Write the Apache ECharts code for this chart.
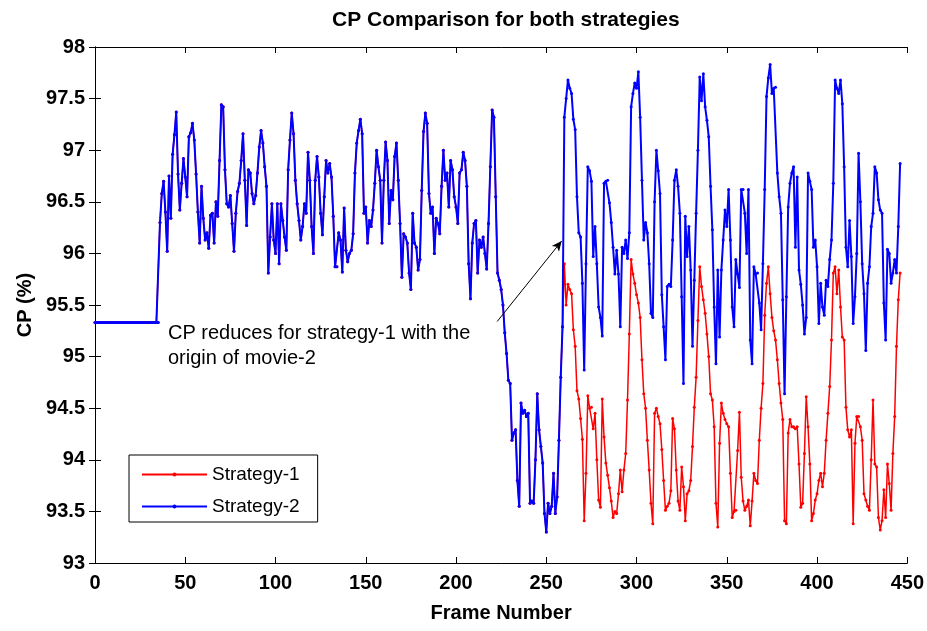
<!DOCTYPE html>
<html>
<head>
<meta charset="utf-8">
<script src="https://cdn.jsdelivr.net/npm/echarts@6/dist/echarts.min.js"></script>
<style>
  html, body { margin: 0; padding: 0; background: #fff; }
  #chart { width: 927px; height: 631px; }
</style>
</head>
<body>
<div id="chart"></div>
<script>
// frames 0..259: both strategies give the same CP (red hidden under blue)
const sharedCP = [
  95.33, 95.33, 95.33, 95.33, 95.33, 95.33, 95.33, 95.33, 95.33, 95.33,
  95.33, 95.33, 95.33, 95.33, 95.33, 95.33, 95.33, 95.33, 95.33, 95.33,
  95.33, 95.33, 95.33, 95.33, 95.33, 95.33, 95.33, 95.33, 95.33, 95.33,
  95.33, 95.33, 95.33, 95.33, 95.33, 95.33, 96.3, 96.58, 96.7, 96.4,
  96.02, 96.75, 96.34, 96.96, 97.15, 97.37, 96.77, 96.42, 96.68, 96.92,
  96.74, 96.55, 97.13, 97.17, 97.26, 97.1, 96.77, 96.4, 96.1, 96.65,
  96.34, 96.13, 96.2, 96.05, 96.37, 96.39, 96.1, 96.5, 96.36, 96.9,
  97.44, 97.42, 96.81, 96.48, 96.45, 96.56, 96.29, 96.02, 96.39, 96.6,
  96.68, 96.9, 97.16, 96.71, 96.27, 96.81, 96.78, 96.58, 96.48, 96.56,
  96.78, 97.03, 97.19, 97.07, 96.84, 96.65, 95.81, 96.16, 96.48, 96.13,
  96.0, 96.48, 95.9, 96.48, 96.32, 96.16, 96.03, 96.81, 97.1, 97.36,
  97.16, 96.71, 96.48, 96.32, 96.13, 96.26, 96.48, 96.39, 96.98, 96.71,
  96.26, 96.0, 96.71, 96.94, 96.74, 96.39, 96.18, 96.55, 96.9, 96.78,
  96.87, 96.74, 96.36, 95.87, 95.87, 96.2, 96.13, 95.82, 96.44, 96.03,
  95.92, 96.0, 96.03, 96.19, 96.78, 97.07, 97.19, 97.3, 97.16, 96.39,
  96.45, 96.1, 96.32, 96.26, 96.42, 96.68, 97.0, 96.84, 96.71, 96.1,
  96.71, 97.08, 96.9, 96.29, 96.61, 96.52, 96.94, 97.07, 96.71, 96.29,
  95.77, 96.19, 96.16, 96.1, 95.81, 95.65, 96.39, 96.1, 96.06, 95.84,
  95.94, 96.61, 97.18, 97.36, 97.26, 96.58, 96.39, 96.45, 96.0, 96.34,
  96.29, 96.19, 96.65, 97.0, 96.71, 96.78, 96.45, 96.9, 96.81, 96.55,
  96.45, 96.29, 96.78, 96.81, 96.98, 96.9, 96.65, 95.9, 95.56, 96.1,
  96.29, 96.32, 95.81, 96.13, 96.06, 96.16, 96.0, 95.85, 96.29, 96.84,
  97.39, 97.32, 96.55, 95.81, 95.74, 95.65, 95.5, 95.23, 95.03, 94.77,
  94.74, 94.19, 94.26, 94.29, 93.8, 93.55, 94.55, 94.45, 94.48, 94.42,
  94.45, 93.58, 93.6, 93.58, 94.0, 94.64, 94.29, 94.13, 93.97, 93.48,
  93.3, 93.58, 93.48, 93.55, 93.87, 93.48, 93.64, 94.19, 94.8, 95.29
]

// frames 260..446
const strategy1Tail = [
  95.9, 95.5, 95.7, 95.65, 95.61, 95.26, 95.1, 94.67, 94.59, 94.4,
  94.2, 93.41, 93.87, 94.62, 94.5, 94.51, 94.3, 94.45, 94.0, 93.61,
  93.54, 94.59, 94.22, 93.97, 93.85, 93.73, 93.6, 93.44, 93.5, 93.48,
  93.67, 93.9, 93.69, 93.9, 94.06, 94.58, 95.22, 95.94, 95.8, 95.71,
  95.6, 95.52, 95.38, 94.97, 94.64, 94.5, 94.19, 93.9, 93.58, 93.38,
  94.45, 94.5, 94.42, 94.35, 94.1, 93.8, 93.51, 93.55, 93.58, 93.7,
  94.4, 94.3, 93.9, 93.6, 93.51, 93.93, 93.74, 93.41, 93.67, 93.7,
  93.8, 94.13, 94.51, 94.8, 95.35, 95.87, 95.68, 95.55, 95.42, 95.22,
  95.0, 94.64, 94.58, 94.32, 93.58, 93.35, 94.16, 94.55, 94.45, 94.39,
  94.35, 94.32, 93.87, 93.44, 93.5, 93.51, 94.09, 94.46, 93.83, 93.6,
  93.51, 93.55, 93.61, 93.36, 93.6, 93.87, 93.8, 93.77, 94.19, 94.5,
  94.74, 95.4, 95.71, 95.87, 95.61, 95.38, 95.25, 95.16, 94.97, 94.74,
  94.55, 94.39, 93.41, 93.38, 94.26, 94.39, 94.32, 94.32, 94.3, 94.32,
  93.96, 93.54, 93.58, 94.06, 94.61, 94.32, 93.96, 93.41, 93.48, 93.61,
  93.67, 93.8, 93.87, 93.74, 93.87, 94.19, 94.45, 94.71, 95.16, 95.81,
  95.87, 95.61, 95.84, 95.48, 95.19, 95.16, 94.51, 94.29, 94.22, 94.29,
  93.38, 94.16, 94.42, 94.42, 94.32, 94.19, 93.67, 93.61, 93.55, 93.51,
  94.0, 94.58, 93.96, 93.93, 93.44, 93.32, 93.41, 93.71, 93.44, 93.96,
  93.77, 93.51, 94.06, 94.42, 95.1, 95.55, 95.81
]

const strategy2Tail = [
  97.32, 97.5, 97.68, 97.6, 97.55, 97.3, 97.2, 96.55, 96.2, 96.16,
  95.71, 94.87, 95.9, 96.84, 96.8, 96.7, 95.97, 96.26, 95.9, 95.48,
  95.38, 95.2, 96.68, 96.7, 96.71, 96.49, 96.3, 96.06, 95.8, 96.03,
  95.8, 95.29, 96.06, 96.0, 96.13, 95.95, 96.2, 97.42, 97.55, 97.65,
  97.6, 97.76, 97.32, 96.71, 96.13, 96.3, 96.2, 95.9, 95.42, 95.38,
  96.5, 97.0, 96.8, 96.58, 95.6, 95.29, 94.97, 95.68, 95.7, 95.68,
  96.13, 96.71, 96.81, 96.65, 96.39, 95.58, 94.74, 96.36, 95.97, 96.26,
  95.84, 95.1, 95.74, 96.39, 97.0, 97.71, 97.48, 97.74, 97.42, 97.29,
  97.13, 96.65, 96.23, 95.48, 94.93, 95.84, 95.19, 95.84, 96.13, 96.42,
  96.26, 96.62, 96.13, 95.48, 95.29, 95.94, 95.8, 95.67, 96.62, 96.62,
  96.39, 96.0, 96.62, 95.16, 94.93, 95.87, 95.8, 95.81, 95.52, 95.26,
  95.9, 96.62, 97.52, 97.7, 97.83, 97.55, 97.6, 97.61, 96.78, 96.55,
  96.39, 95.55, 94.64, 95.58, 96.45, 96.68, 96.78, 96.84, 96.06, 96.74,
  95.84, 95.7, 95.5, 95.22, 95.38, 96.78, 96.7, 96.62, 96.06, 96.13,
  95.87, 95.32, 95.71, 95.48, 95.4, 95.74, 95.68, 95.94, 96.13, 96.68,
  97.68, 97.6, 97.55, 97.68, 97.45, 96.84, 96.06, 95.87, 96.32, 95.97,
  95.32, 95.58, 96.0, 96.97, 96.5, 95.9, 95.61, 95.06, 95.71, 95.87,
  96.26, 96.39, 96.84, 96.78, 96.52, 96.42, 96.39, 95.52, 95.16, 96.04,
  96.0, 95.71, 95.81, 95.94, 95.81, 96.26, 96.87
]

const seriesNames = ['Strategy-1', 'Strategy-2']
const seriesColors = ['#ff0000', '#0000ff']
// annotation arrow, in frame / CP units
const arrowFrom = [222.8, 95.34]
const arrowTo = [258.5, 96.12]
const noteLines = ['CP reduces for strategy-1 with the', 'origin of movie-2']

const toPoints = arr => arr.map((v, i) => [i, v])
const strategy1 = toPoints(sharedCP.concat(strategy1Tail))
const strategy2 = toPoints(sharedCP.concat(strategy2Tail))

const chart = echarts.init(document.getElementById('chart'), null, { renderer: 'canvas' })

const boldFont = { fontFamily: 'Liberation Sans, Arial, sans-serif', fontWeight: 'bold', fontSize: 20, color: '#000' }
const boxAxis = {
  min: 0,
  axisLine: { show: true, lineStyle: { color: '#000', width: 1 } },
  axisTick: { show: true, inside: true, length: 6, lineStyle: { color: '#000' } },
  axisLabel: { show: false },
  splitLine: { show: false }
}

const makeSeries = (idx, data, width) => ({
  name: seriesNames[idx],
  type: 'line',
  data,
  symbol: 'circle',
  symbolSize: 3,
  showAllSymbol: true,
  lineStyle: { width, color: seriesColors[idx] },
  itemStyle: { color: seriesColors[idx] },
  xAxisIndex: 0,
  yAxisIndex: 0,
  z: 2 + idx
})

const strategy2Series = makeSeries(1, strategy2, 2)
strategy2Series.markLine = {
  silent: true,
  symbol: ['none', 'arrow'],
  symbolSize: [7, 10],
  lineStyle: { color: '#000', width: 1, type: 'solid' },
  label: { show: false },
  data: [[{ coord: arrowFrom }, { coord: arrowTo }]]
}

chart.setOption({
  animation: false,
  backgroundColor: '#fff',
  title: {
    text: 'CP Comparison for both strategies',
    left: 327,
    top: 5,
    textStyle: { fontFamily: 'Liberation Sans, Arial, sans-serif', fontWeight: 'bold', fontSize: 21, color: '#000' }
  },
  grid: { left: 95, right: 10, top: 47, bottom: 68 },
  legend: {
    orient: 'vertical',
    left: 129,
    top: 455,
    data: seriesNames,
    itemWidth: 65,
    itemHeight: 5,
    itemGap: 13,
    padding: [10, 18, 6, 12],
    borderColor: '#000',
    borderWidth: 1,
    backgroundColor: '#fff',
    textStyle: { fontFamily: 'Liberation Sans, Arial, sans-serif', fontSize: 19, color: '#000' }
  },
  xAxis: [
    Object.assign({}, boxAxis, {
      type: 'value',
      max: 450,
      interval: 50,
      position: 'bottom',
      name: 'Frame Number',
      nameLocation: 'middle',
      nameGap: 40,
      nameTextStyle: boldFont,
      axisLabel: Object.assign({ show: true, margin: 10 }, boldFont)
    }),
    Object.assign({}, boxAxis, { type: 'value', max: 450, interval: 50, position: 'top' })
  ],
  yAxis: [
    Object.assign({}, boxAxis, {
      type: 'value',
      min: 93,
      max: 98,
      interval: 0.5,
      position: 'left',
      name: 'CP (%)',
      nameLocation: 'middle',
      nameGap: 58,
      nameTextStyle: boldFont,
      axisLabel: Object.assign({ show: true, margin: 10 }, boldFont)
    }),
    Object.assign({}, boxAxis, { type: 'value', min: 93, max: 98, interval: 0.5, position: 'right' })
  ],
  graphic: [
    {
      type: 'text',
      left: 168,
      top: 321,
      style: {
        text: noteLines.join('\n'),
        font: '20px Liberation Sans, Arial, sans-serif',
        lineHeight: 25,
        fill: '#000'
      },
      z: 10
    }
  ],
  series: [makeSeries(0, strategy1, 1.5), strategy2Series]
})
</script>
</body>
</html>
